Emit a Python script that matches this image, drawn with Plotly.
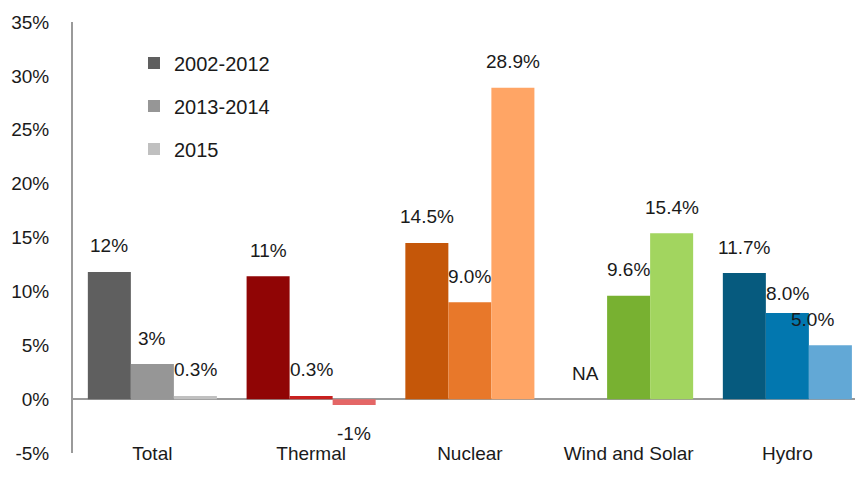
import plotly.graph_objects as go

categories = ["Total", "Thermal", "Nuclear", "Wind and Solar", "Hydro"]
series_names = ["2002-2012", "2013-2014", "2015"]

values_2002_2012 = [11.8, 11.4, 14.5, None, 11.7]
values_2013_2014 = [3.25, 0.3, 9.0, 9.6, 8.0]
values_2015 = [0.3, -0.55, 28.9, 15.4, 5.0]

labels_2002_2012 = ["12%", "11%", "14.5%", "NA", "11.7%"]
labels_2013_2014 = ["3%", "0.3%", "9.0%", "9.6%", "8.0%"]
labels_2015 = ["0.3%", "-1%", "28.9%", "15.4%", "5.0%"]

y_tick_values = [-5, 0, 5, 10, 15, 20, 25, 30, 35]
y_tick_labels = ["-5%", "0%", "5%", "10%", "15%", "20%", "25%", "30%", "35%"]

colors_2002_2012 = ["#5f5f5f", "#900505", "#c55709", "#78b131", "#065a7e"]
colors_2013_2014 = ["#969696", "#c8201e", "#e8782a", "#78b131", "#0277af"]
colors_2015 = ["#c0c0c0", "#e46666", "#ffa565", "#a2d55f", "#62a8d6"]

all_values = [values_2002_2012, values_2013_2014, values_2015]
all_labels = [labels_2002_2012, labels_2013_2014, labels_2015]
all_colors = [colors_2002_2012, colors_2013_2014, colors_2015]

font_family = "Liberation Sans, Arial, sans-serif"
text_color = "#1a1a1a"
axis_color = "#9a9a9a"

fig = go.Figure()

for i, name in enumerate(series_names):
    fig.add_trace(go.Bar(
        name=name,
        x=categories,
        y=all_values[i],
        marker=dict(color=all_colors[i], line=dict(width=0)),
        legendgroup=name,
        hoverinfo="skip",
    ))

# data labels sit a little above (or below) each bar, nudged onto its slot in the group
bar_shift = [-43, 0, 43]
annotations = []
for i in range(len(series_names)):
    for j, cat in enumerate(categories):
        v = all_values[i][j]
        y = 0 if v is None else v
        dx = bar_shift[i]
        dy = 26 if y >= 0 else -28
        if all_labels[i][j] == "5.0%":
            dx -= 18
        if all_labels[i][j] == "8.0%":
            dy = 19
        annotations.append(dict(
            x=cat, y=y, xref="x", yref="y",
            text=all_labels[i][j], showarrow=False,
            xshift=dx, yshift=dy, yanchor="middle",
            font=dict(family=font_family, size=19, color=text_color),
        ))

fig.update_layout(
    width=855, height=491,
    margin=dict(l=73, r=0, t=22, b=38),
    paper_bgcolor="white", plot_bgcolor="white",
    barmode="group", bargap=0.187, bargroupgap=0,
    font=dict(family=font_family, size=19, color=text_color),
    showlegend=True,
    legend=dict(
        x=0.078, y=0.95, xanchor="left", yanchor="top",
        traceorder="grouped", tracegroupgap=14,
        font=dict(family=font_family, size=20, color=text_color),
        bgcolor="rgba(0,0,0,0)",
    ),
    annotations=annotations,
)

fig.update_xaxes(
    range=[-0.5, 4.426], showline=False, showgrid=False, ticks="",
    ticklabelstandoff=-13, automargin=False,
    tickfont=dict(family=font_family, size=19, color=text_color),
)
fig.update_yaxes(
    range=[-5, 35], tickvals=y_tick_values, ticktext=y_tick_labels,
    showline=True, linecolor=axis_color, linewidth=2,
    showgrid=False, zeroline=True, zerolinecolor=axis_color, zerolinewidth=2,
    ticks="", ticklabelstandoff=18, automargin=False,
    tickfont=dict(family=font_family, size=19, color=text_color),
)

# the page's default body margin would push the fixed-size figure 8px off
fig.write_html("out.html", config={"displayModeBar": False},
               post_script="document.body.style.margin = '0';")
